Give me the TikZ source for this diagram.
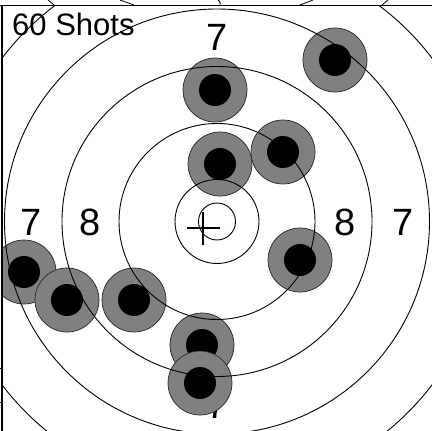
\documentclass[tikz,border=0pt]{standalone}
\usepackage{fontspec}
\setmainfont{Liberation Sans}
\tikzset{
  ringline/.style={draw=black, line width=0.9pt},
  shotouter/.style={fill=gray, draw=black!85, line width=0.7pt},
  shotinner/.style={fill=black},
  scorelabel/.style={font=\fontsize{38}{38}\selectfont, inner sep=0pt},
}
\begin{document}
\begin{tikzpicture}[x=1pt, y=-1pt]
  \useasboundingbox (0,0) rectangle (432,431);
  \fill[white] (0,0) rectangle (432,431);
  \begin{scope}
    \clip (3,6) rectangle (432,431);
    % ring numbers
    \node[scorelabel] (sevenT) at (217,37) {7};
    \node[scorelabel] (sevenB) at (217,405) {7};
    \node[scorelabel] (sevenL) at (31,222) {7};
    \node[scorelabel] (sevenR) at (403,222) {7};
    \node[scorelabel] (eightL) at (90,222) {8};
    \node[scorelabel] (eightR) at (345,222) {8};
    % hits
    \foreach \sx/\sy in {335/60, 215/90, 220/164, 283/152, 300/260,
                         24/272, 67/300, 134/300, 202/345, 200/383} {
      \filldraw[shotouter] (\sx,\sy) circle (32);
      \fill[shotinner] (\sx,\sy) circle (16);
    }
    % rings
    \foreach \r in {18.5,42,98,155,212.5,270}
      \draw[ringline] (217,221.5) circle (\r);
    % aiming cross
    \draw[line width=1.2pt] (186.5,228) -- (219.5,228) (203,211.5) -- (203,244.5);
    \node[font=\fontsize{31}{31}\selectfont, anchor=base west, inner sep=0pt] (count) at (12,35) {60 Shots};
  \end{scope}
  % frame
  \draw[line width=1.3pt] (0,5.5) -- (432,5.5) (2,5.5) -- (2,431);
  \draw[line width=0.8pt] (0,368) -- (3,368) (0,402) -- (3,402);
  \draw[line width=0.8pt] (48,0) -- (54,5) (120,0) -- (134,5)
    (300,5) -- (313,0) (382,5) -- (388,0);
  \draw[line width=0.9pt] (218,0) .. controls (220.5,2) .. (220,5);
\end{tikzpicture}
\end{document}
